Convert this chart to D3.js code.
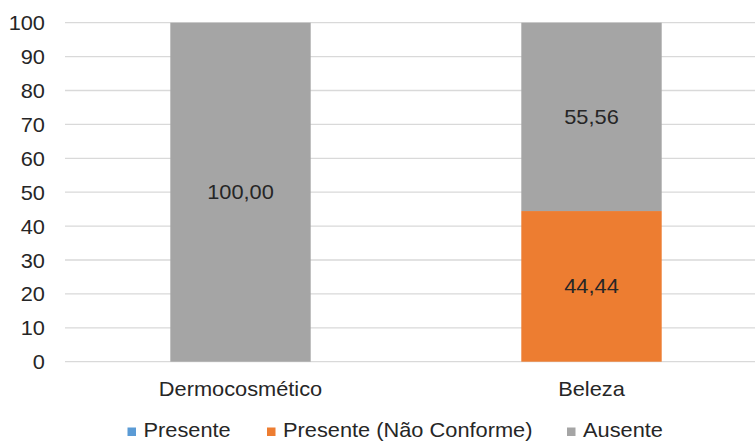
<!DOCTYPE html>
<html>
<head>
<meta charset="utf-8">
<script src="https://cdn.jsdelivr.net/npm/d3@7"></script>
<style>
  html, body { margin: 0; padding: 0; background: #fff; }
  svg { display: block; font-family: "Liberation Sans", Arial, sans-serif; }
</style>
</head>
<body>
<svg id="chart" width="755" height="441"></svg>
<script>
// Categories and stacked series (percent)
const categories = ["Dermocosmético", "Beleza"];
const seriesNames = ["Presente", "Presente (Não Conforme)", "Ausente"];
const presente = [0, 0];
const presenteNaoConforme = [0, 44.44];
const ausente = [100, 55.56];
const yTicks = [0, 10, 20, 30, 40, 50, 60, 70, 80, 90, 100];
const colors = ["#5B9BD5", "#ED7D31", "#A5A5A5"];

const rows = categories.map((c, i) => ({
  cat: c,
  "Presente": presente[i],
  "Presente (Não Conforme)": presenteNaoConforme[i],
  "Ausente": ausente[i]
}));

const svg = d3.select("#chart");
const plotLeft = 65, plotRight = 767, plotTop = 22.7, plotBottom = 361.7;
const fontSize = 20, stretch = "scale(1.09,1)", textColor = "#262626";

const x = d3.scaleBand().domain(categories).range([plotLeft, plotRight])
  .paddingInner(0.6).paddingOuter(0.3);
const y = d3.scaleLinear().domain([0, 100]).range([plotBottom, plotTop]);

// Horizontal gridlines
svg.append("g").selectAll("line").data(yTicks).join("line")
  .attr("x1", plotLeft).attr("x2", 755)
  .attr("y1", d => y(d)).attr("y2", d => y(d))
  .attr("stroke", "#D9D9D9").attr("stroke-width", 1.3);

// Y axis labels
const yAxis = d3.axisLeft(y).tickValues(yTicks).tickSize(0).tickPadding(0);
const ya = svg.append("g").attr("transform", "translate(45,0)").call(yAxis);
ya.select(".domain").remove();
ya.selectAll("text").attr("x", 0).attr("font-size", fontSize).attr("fill", textColor)
  .attr("font-family", "Liberation Sans, Arial, sans-serif").attr("dy", "0.35em")
  .attr("transform", stretch);

// Stacked bars
const stack = d3.stack().keys(seriesNames);
const layers = stack(rows);
layers.forEach((layer, li) => {
  svg.append("g").attr("fill", colors[li]).selectAll("rect").data(layer).join("rect")
    .attr("x", d => x(d.data.cat))
    .attr("width", x.bandwidth())
    .attr("y", d => y(d[1]))
    .attr("height", d => y(d[0]) - y(d[1]));
  // Value labels for non-zero segments
  svg.append("g").selectAll("text").data(layer.filter(d => d[1] - d[0] > 0)).join("text")
    .attr("transform", d => `translate(${x(d.data.cat) + x.bandwidth() / 2},${y((d[0] + d[1]) / 2)}) ${stretch}`)
    .attr("dy", "0.35em")
    .attr("text-anchor", "middle")
    .attr("font-size", fontSize).attr("fill", textColor)
    .text(d => (d[1] - d[0]).toFixed(2).replace(".", ","));
});

// Category labels
const xAxis = d3.axisBottom(x).tickSize(0).tickPadding(0);
const xa = svg.append("g").attr("transform", `translate(0,${plotBottom + 20})`).call(xAxis);
xa.select(".domain").remove();
xa.selectAll("text").attr("y", 0).attr("font-size", fontSize).attr("fill", textColor)
  .attr("font-family", "Liberation Sans, Arial, sans-serif").attr("dy", "0.71em")
  .attr("transform", stretch);

// Legend
const legendX = [127.5, 267, 567];
const lg = svg.append("g");
seriesNames.forEach((name, i) => {
  lg.append("rect").attr("x", legendX[i]).attr("y", 427.5).attr("width", 8.5).attr("height", 8.5)
    .attr("fill", colors[i]);
  lg.append("text").attr("transform", `translate(${legendX[i] + 16},437.3) ${stretch}`)
    .attr("font-size", fontSize).attr("fill", textColor).text(name);
});
</script>
</body>
</html>
